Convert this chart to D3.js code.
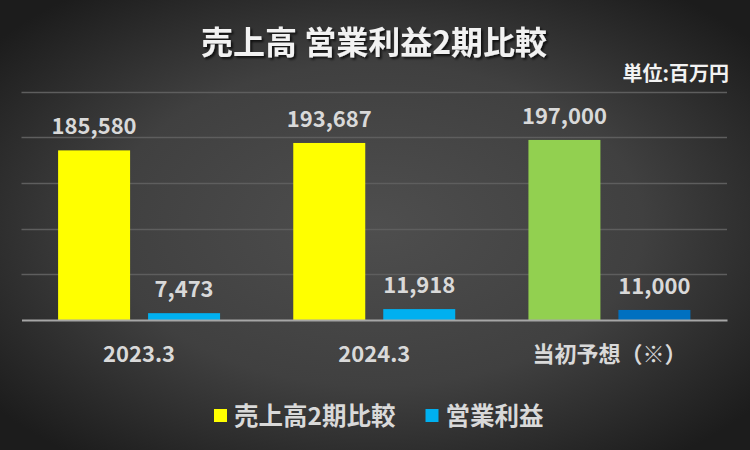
<!DOCTYPE html>
<html><head><meta charset="utf-8">
<script src="https://cdn.jsdelivr.net/npm/d3@7"></script>
<style>
html,body{margin:0;padding:0;background:#2a2a2a;}
svg{display:block;}
text{font-family:"Noto Sans CJK JP","Noto Sans",sans-serif;font-weight:bold;}
</style></head>
<body>
<svg id="c" width="750" height="450"></svg>
<script>
const categories = ["2023.3", "2024.3", "当初予想（※）"];
const seriesNames = ["売上高2期比較", "営業利益"];
const sales = [185580, 193687, 197000];
const profit = [7473, 11918, 11000];
const salesColors = ["#FFFF00", "#FFFF00", "#92D050"];
const profitColors = ["#00B0F0", "#00B0F0", "#0070C0"];
const legendColors = ["#FFFF00", "#00B0F0"];
const yTicks = [0, 50000, 100000, 150000, 200000, 250000];
const title = "売上高 営業利益2期比較";
const unitLabel = "単位:百万円";

const svg = d3.select("#c");
const W = 750, H = 450;
const defs = svg.append("defs");
const rg = defs.append("radialGradient").attr("id", "bg")
  .attr("cx", "50%").attr("cy", "50%").attr("r", "65%");
rg.append("stop").attr("offset", "0%").attr("stop-color", "#4e4e4e");
rg.append("stop").attr("offset", "55%").attr("stop-color", "#404040");
rg.append("stop").attr("offset", "100%").attr("stop-color", "#1c1c1c");
const sh = defs.append("filter").attr("id", "sh").attr("x", "-10%").attr("y", "-30%").attr("width", "120%").attr("height", "160%");
sh.append("feDropShadow").attr("dx", 2).attr("dy", 2).attr("stdDeviation", 1.2)
  .attr("flood-color", "#000").attr("flood-opacity", 0.7);

svg.append("rect").attr("width", W).attr("height", H).attr("fill", "url(#bg)");

const x0 = d3.scaleBand().domain(categories).range([21.5, 727]).paddingInner(0).paddingOuter(0);
const groupPad = 36.6;
const x1 = d3.scaleBand().domain(seriesNames)
  .range([groupPad, x0.bandwidth() - groupPad]).paddingInner(0.2).paddingOuter(0);
const y = d3.scaleLinear().domain([0, 250000]).range([320, 91.5]);

// gridlines
svg.append("g").selectAll("line").data(yTicks.slice(1)).join("line")
  .attr("x1", 21.5).attr("x2", 727)
  .attr("y1", d => Math.round(y(d)) + 0.5).attr("y2", d => Math.round(y(d)) + 0.5)
  .attr("stroke", "#5e5e5e").attr("stroke-width", 1.3);

// bars
const data = categories.map((c, i) => ({ c, i, vals: [sales[i], profit[i]] }));
const grp = svg.append("g").selectAll("g").data(data).join("g")
  .attr("transform", d => `translate(${x0(d.c)},0)`);
grp.selectAll("rect").data(d => d.vals.map((v, k) => ({ v, k, i: d.i }))).join("rect")
  .attr("x", d => x1(seriesNames[d.k]))
  .attr("width", x1.bandwidth())
  .attr("y", d => y(d.v))
  .attr("height", d => y(0) - y(d.v))
  .attr("fill", d => d.k === 0 ? salesColors[d.i] : profitColors[d.i]);
grp.selectAll("text").data(d => d.vals.map((v, k) => ({ v, k }))).join("text")
  .attr("x", d => x1(seriesNames[d.k]) + x1.bandwidth() / 2)
  .attr("y", d => y(d.v) - 16)
  .attr("text-anchor", "middle")
  .attr("font-size", 22)
  .attr("fill", "#d9d9d9")
  .text(d => d3.format(",")(d.v));

// baseline axis
const xAxis = d3.axisBottom(x0).tickSize(0).tickPadding(26);
const ax = svg.append("g").attr("transform", `translate(0,${y(0)})`).call(xAxis);
ax.select(".domain").attr("stroke", "#a6a6a6").attr("stroke-width", 2);
ax.selectAll("text").attr("font-size", 22).attr("fill", "#d9d9d9")
  .attr("font-family", "'Noto Sans CJK JP',sans-serif").attr("font-weight", "bold");

// title
svg.append("text").attr("x", 374).attr("y", 54).attr("text-anchor", "middle")
  .attr("font-size", 32).attr("fill", "#f2f2f2").attr("filter", "url(#sh)").text(title);
svg.append("text").attr("x", 729).attr("y", 81).attr("text-anchor", "end")
  .attr("font-size", 20).attr("fill", "#f2f2f2").text(unitLabel);

// legend
const leg = svg.append("g");
const legX = [214, 425.5];
seriesNames.forEach((s, k) => {
  leg.append("rect").attr("x", legX[k]).attr("y", 409).attr("width", 13).attr("height", 13)
    .attr("fill", legendColors[k]);
  leg.append("text").attr("x", legX[k] + 20).attr("y", 425).attr("font-size", 24.5)
    .attr("fill", "#d9d9d9").text(s);
});
</script>
</body></html>
